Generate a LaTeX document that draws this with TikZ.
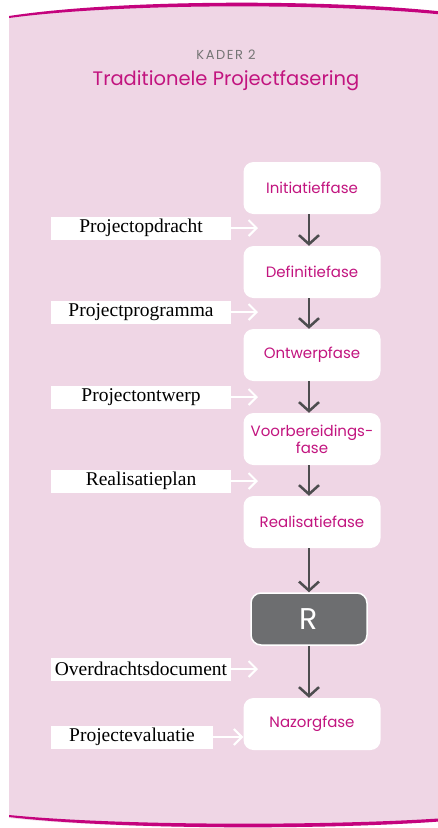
\documentclass[tikz,border=0pt]{standalone}
\usepackage{fontspec}
\setmainfont{Liberation Serif}
\newfontfamily\geo{Poppins}
\usetikzlibrary{arrows.meta}
\definecolor{panelpink}{HTML}{EFD6E5}
\definecolor{rim}{HTML}{C4037D}
\definecolor{heading}{HTML}{C2147F}
\definecolor{kadergray}{HTML}{757575}
\definecolor{flowgray}{HTML}{4D4D4F}
\definecolor{rgray}{HTML}{6D6E70}
\tikzset{
  fasebox/.style={fill=white, rounded corners=10pt, minimum width=137pt,
    minimum height=52pt, inner sep=0pt, align=center, text=heading,
    font=\geo\fontsize{15}{17}\selectfont},
  docbox/.style={fill=white, minimum width=180pt, minimum height=23pt,
    inner sep=0pt, font=\fontsize{19.5}{21}\selectfont},
  flow/.style={draw=flowgray, line width=2.5pt,
    -{Straight Barb[length=9pt,width=20pt,line width=2.5pt]}},
  feed/.style={draw=white, line width=2pt,
    -{Straight Barb[length=8pt,width=16pt,line width=2pt]}}
}
\begin{document}
\begin{tikzpicture}[x=1pt,y=-1pt]
\useasboundingbox (0,0) rectangle (438,828);
% panel with curved top and bottom
\fill[panelpink] (9,17) .. controls (120,-1) and (330,-1) .. (446,13)
  -- (446,821) .. controls (330,830) and (120,830) .. (9,818) -- cycle;
\fill[rim] (9,16) .. controls (120,-1) and (330,-1) .. (446,12)
  -- (446,15) .. controls (330,3) and (120,3) .. (9,18) -- cycle;
\fill[rim] (9,817) .. controls (120,830) and (330,830) .. (446,821)
  -- (446,818) .. controls (330,826) and (120,826) .. (9,815) -- cycle;

% heading
\node (kader) at (226,55) {\geo\addfontfeature{LetterSpace=12}\fontsize{13}{15}\selectfont\color{kadergray}KADER 2};
\node (title) at (226,81) {\geo\fontsize{19.5}{22}\selectfont\color{heading}Traditionele Projectfasering};

% phases
\node[fasebox] (init) at (312,188) {Initiatieffase};
\node[fasebox] (def)  at (312,272) {Definitiefase};
\node[fasebox] (ontw) at (312,355) {Ontwerpfase};
\node[fasebox] (voor) at (312,439) {Voorbereidings-\\fase};
\node[fasebox] (real) at (312,522) {Realisatiefase};
\node[fasebox, fill=rgray, draw=white, line width=1.5pt, minimum width=116pt,
  text=white, font=\geo\fontsize{30}{32}\selectfont] (rr) at (309,619) {R};
\node[fasebox] (naz)  at (312,724) {Nazorgfase};

% documents
\node[docbox] (d1) at (141,228) {Projectopdracht};
\node[docbox] (d2) at (141,312) {Projectprogramma};
\node[docbox] (d3) at (141,397) {Projectontwerp};
\node[docbox] (d4) at (141,481) {Realisatieplan};
\node[docbox] (d5) at (141,669) {Overdrachtsdocument};
\node[docbox, minimum width=162pt] (d6) at (132,737) {Projectevaluatie};

\coordinate (t1) at (258,228);
\coordinate (t2) at (258,312);
\coordinate (t3) at (258,397);
\coordinate (t4) at (258,481);
\coordinate (t5) at (258,669);

% flow between phases
\draw[flow] ([xshift=-3pt]init.south) -- ([xshift=-3pt]def.north);
\draw[flow] ([xshift=-3pt]def.south) -- ([xshift=-3pt]ontw.north);
\draw[flow] ([xshift=-3pt]ontw.south) -- ([xshift=-3pt]voor.north);
\draw[flow] ([xshift=-3pt]voor.south) -- ([xshift=-3pt]real.north);
\draw[flow] ([xshift=-3pt]real.south) -- (rr.north);
\draw[flow] (rr.south) -- ([xshift=-3pt]naz.north);

% documents feeding in
\draw[feed] (d1.east) -- (t1);
\draw[feed] (d2.east) -- (t2);
\draw[feed] (d3.east) -- (t3);
\draw[feed] (d4.east) -- (t4);
\draw[feed] (d5.east) -- (t5);
\draw[feed] (d6.east) -- (d6.east -| naz.west);
\end{tikzpicture}
\end{document}
